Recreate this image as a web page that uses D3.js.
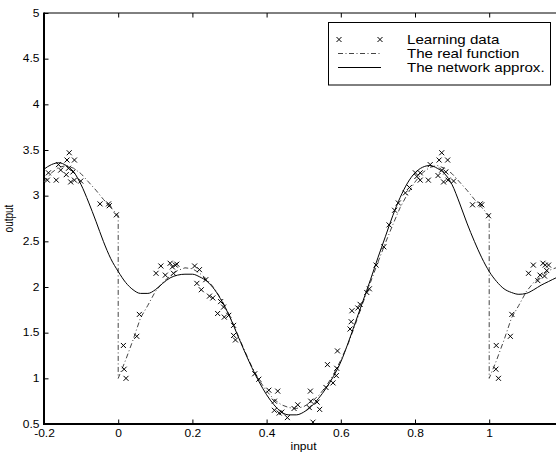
<!DOCTYPE html>
<html>
<head>
<meta charset="utf-8">
<script src="https://cdn.jsdelivr.net/npm/d3@7.9.0/dist/d3.min.js"></script>
<style>
  body { margin: 0; background: #fff; }
  svg { display: block; font-family: 'Liberation Sans', Arial, Helvetica, sans-serif; }
</style>
</head>
<body>
<svg id="chart" width="556" height="452"></svg>
<script>
// ticks
const xTicks = [-0.2, 0, 0.2, 0.4, 0.6, 0.8, 1];
const yTicks = [0.5, 1, 1.5, 2, 2.5, 3, 3.5, 4, 4.5, 5];

// the real function (jumps at 0 and 1)
const realX = [-0.2, -0.18, -0.16, -0.14, -0.12, -0.1, -0.08, -0.06, -0.04, -0.02, 0,
  0, 0.02, 0.04, 0.06, 0.08, 0.1, 0.12, 0.14, 0.16, 0.18, 0.2, 0.22, 0.24, 0.26, 0.28, 0.3,
  0.32, 0.34, 0.36, 0.38, 0.4, 0.42, 0.44, 0.46, 0.48, 0.5, 0.52, 0.54, 0.56, 0.58, 0.6,
  0.62, 0.64, 0.66, 0.68, 0.7, 0.72, 0.74, 0.76, 0.78, 0.8, 0.82, 0.84, 0.86, 0.88, 0.9,
  0.92, 0.94, 0.96, 0.98, 1,
  1, 1.02, 1.04, 1.06, 1.08, 1.1, 1.12, 1.14, 1.16, 1.18, 1.2];
const realY = [3.15, 3.25, 3.31, 3.33, 3.3, 3.24, 3.15, 3.06, 2.96, 2.87, 2.78,
  1.0, 1.2, 1.42, 1.66, 1.8, 1.95, 2.05, 2.12, 2.18, 2.21, 2.2, 2.15, 2.08, 1.98, 1.85, 1.69,
  1.5, 1.31, 1.13, 0.98, 0.86, 0.77, 0.71, 0.68, 0.67, 0.69, 0.74, 0.81, 0.91, 1.04, 1.2,
  1.38, 1.6, 1.83, 2.05, 2.27, 2.48, 2.68, 2.87, 3.02, 3.15, 3.25, 3.31, 3.33, 3.3, 3.24,
  3.15, 3.06, 2.96, 2.87, 2.78,
  1.0, 1.2, 1.42, 1.66, 1.8, 1.95, 2.05, 2.12, 2.18, 2.21, 2.2];

// the network approximation
const netX = [-0.2, -0.18, -0.16, -0.14, -0.12, -0.1, -0.08, -0.06, -0.04, -0.02, 0,
  0.02, 0.04, 0.06, 0.08, 0.1, 0.12, 0.14, 0.16, 0.18, 0.2, 0.22, 0.24, 0.26, 0.28, 0.3,
  0.32, 0.34, 0.36, 0.38, 0.4, 0.42, 0.44, 0.46, 0.48, 0.5, 0.52, 0.54, 0.56, 0.58, 0.6,
  0.62, 0.64, 0.66, 0.68, 0.7, 0.72, 0.74, 0.76, 0.78, 0.8, 0.82, 0.84, 0.86, 0.88, 0.9,
  0.92, 0.94, 0.96, 0.98, 1, 1.02, 1.04, 1.06, 1.08, 1.1, 1.12, 1.14, 1.16, 1.18, 1.2];
const netY = [3.29, 3.34, 3.36, 3.33, 3.26, 3.12, 2.93, 2.72, 2.5, 2.31, 2.17,
  2.05, 1.97, 1.93, 1.93, 1.97, 2.04, 2.1, 2.13, 2.14, 2.14, 2.11, 2.06, 1.97, 1.84, 1.68,
  1.49, 1.3, 1.12, 0.96, 0.82, 0.71, 0.63, 0.6, 0.6, 0.63, 0.69, 0.78, 0.89, 1.02, 1.18,
  1.39, 1.62, 1.85, 2.08, 2.32, 2.55, 2.78, 2.98, 3.14, 3.25, 3.31, 3.33, 3.3, 3.24, 3.12,
  2.92, 2.7, 2.5, 2.32, 2.17, 2.06, 1.98, 1.94, 1.92, 1.93, 1.97, 2.02, 2.06, 2.1, 2.13];

// learning data
const learnX = [-0.188, -0.191, -0.167, -0.161, -0.155, -0.14, -0.138, -0.132, -0.134, -0.128,
  -0.122, -0.118, -0.118, -0.101, -0.049, -0.026, -0.024, -0.005,
  0.014, 0.016, 0.021, 0.05, 0.057, 0.102, 0.115, 0.127, 0.14, 0.146, 0.149, 0.154, 0.158,
  0.206, 0.219, 0.212, 0.224, 0.236, 0.246, 0.255, 0.268, 0.276, 0.284, 0.286, 0.298,
  0.311, 0.311, 0.316, 0.368, 0.379, 0.406, 0.43, 0.421, 0.421, 0.434, 0.441, 0.456,
  0.474, 0.484, 0.518, 0.519, 0.515, 0.525, 0.536, 0.543, 0.56, 0.579, 0.564, 0.588, 0.589, 0.591,
  0.625, 0.628, 0.63, 0.646, 0.652, 0.67, 0.677, 0.695, 0.716, 0.73, 0.745, 0.755, 0.774, 0.785, 0.801,
  0.805, 0.814, 0.814, 0.836, 0.841, 0.862, 0.865, 0.872, 0.872, 0.877, 0.883, 0.888, 0.889, 0.904,
  0.955, 0.976, 0.98, 0.998,
  1.019, 1.018, 1.025, 1.057, 1.061, 1.106, 1.119, 1.131, 1.137, 1.145, 1.149, 1.151, 1.16, 1.155];
const learnY = [3.25, 3.17, 3.17, 3.34, 3.28, 3.23, 3.39, 3.47, 3.3, 3.15,
  3.26, 3.39, 3.17, 3.16, 2.91, 2.91, 2.89, 2.79,
  1.36, 1.1, 1.0, 1.46, 1.7, 2.15, 2.23, 2.13, 2.26, 2.22, 2.15, 2.24, 2.25,
  2.23, 2.19, 2.04, 1.97, 2.08, 1.9, 1.88, 1.71, 1.84, 1.78, 1.67, 1.69,
  1.58, 1.47, 1.42, 1.05, 0.99, 0.87, 0.86, 0.75, 0.65, 0.62, 0.63, 0.57,
  0.67, 0.71, 0.86, 0.75, 0.68, 0.52, 0.74, 0.66, 0.9, 0.95, 1.15, 1.03, 1.11, 1.3,
  1.54, 1.62, 1.74, 1.77, 1.81, 1.94, 1.98, 2.24, 2.44, 2.68, 2.84, 2.92, 3.03, 3.09, 3.25,
  3.21, 3.25, 3.17, 3.17, 3.34, 3.22, 3.39, 3.47, 3.28, 3.15, 3.26, 3.39, 3.17, 3.16,
  2.9, 2.91, 2.9, 2.78,
  1.36, 1.1, 1.0, 1.46, 1.7, 2.15, 2.24, 2.07, 2.13, 2.26, 2.12, 2.24, 2.24, 2.18];

const legendLabels = ['Learning data', 'The real function', 'The network approx.'];

const svg = d3.select('#chart');
const x = d3.scaleLinear().domain([-0.2, 1.2]).range([44, 563.4]);
const y = d3.scaleLinear().domain([0.5, 5]).range([424, 13]);
const stretch = 'scale(1.2,1)'; // the original text is wider than it is tall

// axes
const fmt = d => String(d);
const gx = svg.append('g').attr('transform', 'translate(0,424)')
  .call(d3.axisBottom(x).tickValues(xTicks).tickSizeInner(-4.5).tickSizeOuter(0)
    .tickPadding(6.4).tickFormat(fmt));
const gTop = svg.append('g').attr('transform', 'translate(0,13)')
  .call(d3.axisTop(x).tickValues(xTicks).tickSizeInner(-4.5).tickSizeOuter(0).tickFormat(''));
const gy = svg.append('g').attr('transform', 'translate(44,0)')
  .call(d3.axisLeft(y).tickValues(yTicks).tickSizeInner(-4.5).tickSizeOuter(0)
    .tickPadding(3.75).tickFormat(fmt));

[gx, gTop, gy].forEach(g => {
  g.select('.domain').remove();
  g.selectAll('line').attr('stroke', '#000');
  g.selectAll('text').attr('fill', '#000').attr('font-size', 10)
    .attr('font-family', "'Liberation Sans', Arial, sans-serif")
    .attr('transform', stretch);
});

// frame
svg.append('line').attr('x1', 44).attr('x2', 556).attr('y1', 13).attr('y2', 13)
  .attr('stroke', '#000').attr('stroke-width', 1);
svg.append('line').attr('x1', 44).attr('x2', 44).attr('y1', 12.5).attr('y2', 425)
  .attr('stroke', '#000').attr('stroke-width', 2);
svg.append('line').attr('x1', 43).attr('x2', 556).attr('y1', 424).attr('y2', 424)
  .attr('stroke', '#000').attr('stroke-width', 2);

// axis labels
svg.append('text').attr('transform', 'translate(303.5,450) ' + stretch)
  .attr('text-anchor', 'middle').attr('font-size', 10).text('input');
svg.append('text').attr('transform', 'translate(13,218.5) ' + stretch + ' rotate(-90)')
  .attr('text-anchor', 'middle').attr('font-size', 10).text('output');

// lines
const realLine = d3.line().x(i => x(realX[i])).y(i => y(realY[i]));
svg.append('path').attr('d', realLine(d3.range(realX.length)))
  .attr('fill', 'none').attr('stroke', '#444').attr('stroke-width', 1)
  .attr('stroke-dasharray', '5,2.5,1,2.5');

const netLine = d3.line().curve(d3.curveMonotoneX).x(i => x(netX[i])).y(i => y(netY[i]));
svg.append('path').attr('d', netLine(d3.range(netX.length)))
  .attr('fill', 'none').attr('stroke', '#000').attr('stroke-width', 1);

const cross = 'M-2.5,-2.5L2.5,2.5M-2.5,2.5L2.5,-2.5';
svg.append('g').selectAll('path').data(d3.range(learnX.length)).join('path')
  .attr('transform', i => `translate(${x(learnX[i])},${y(learnY[i])})`)
  .attr('d', cross).attr('stroke', '#000').attr('stroke-width', 1).attr('fill', 'none');

// legend
const lg = svg.append('g');
lg.append('rect').attr('x', 328.5).attr('y', 22.5).attr('width', 222).attr('height', 62.5)
  .attr('fill', '#fff').attr('stroke', '#000').attr('stroke-width', 1);
const rowY = [39.5, 53.5, 67.5];
[339, 380].forEach(px => {
  lg.append('path').attr('transform', `translate(${px},${rowY[0]})`)
    .attr('d', cross).attr('stroke', '#000').attr('fill', 'none');
});
lg.append('line').attr('x1', 338).attr('x2', 381).attr('y1', rowY[1]).attr('y2', rowY[1])
  .attr('stroke', '#444').attr('stroke-dasharray', '5,2.5,1,2.5');
lg.append('line').attr('x1', 338).attr('x2', 381).attr('y1', rowY[2]).attr('y2', rowY[2])
  .attr('stroke', '#000');
legendLabels.forEach((t, i) => {
  lg.append('text').attr('transform', `translate(407,${rowY[i] + 4}) scale(1.26,1)`)
    .attr('font-size', 12).attr('fill', '#000').text(t);
});
</script>
</body>
</html>
